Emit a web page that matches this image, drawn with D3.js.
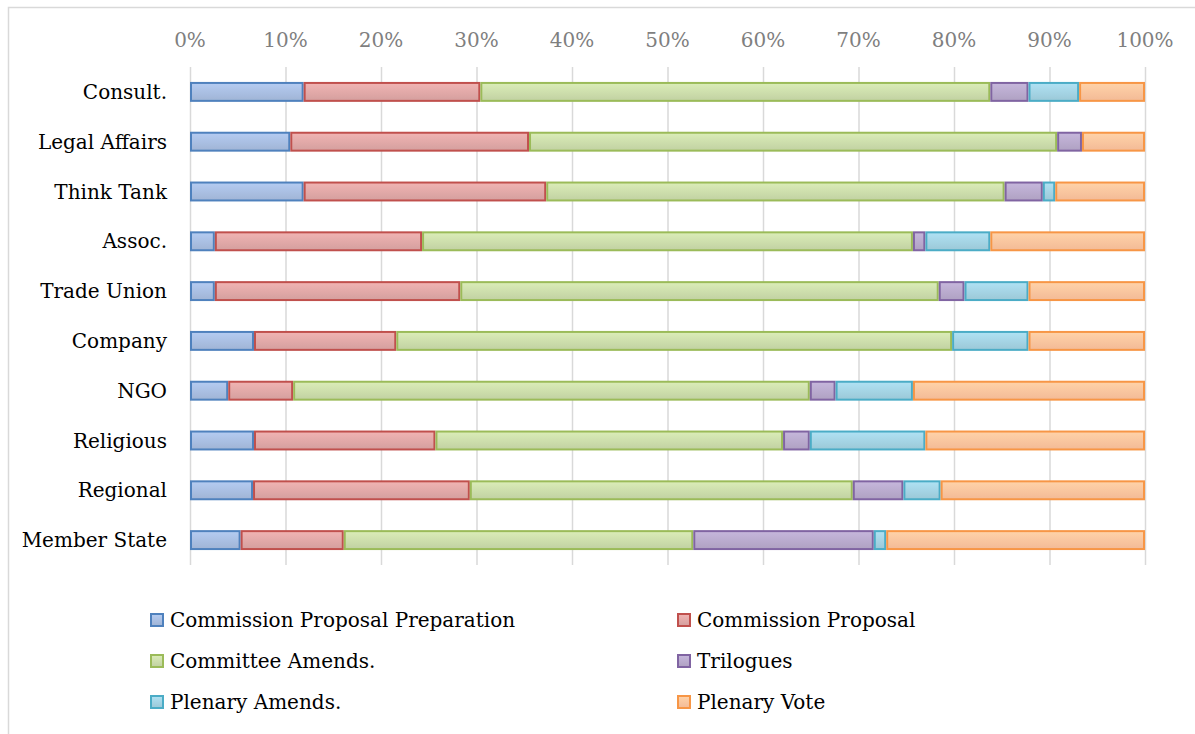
<!DOCTYPE html>
<html lang="en">
<head>
<meta charset="UTF-8">
<title>Stage shares by actor type</title>
<script src="https://cdn.jsdelivr.net/npm/d3@7"></script>
<style>
    body { margin: 0; background: #fff; }
    svg text { font-family: "DejaVu Serif", "Liberation Serif", serif; }
    .tick-label { fill: #7f7f7f; }
    .grid line { stroke: #d9d9d9; stroke-width: 1.5px; }
</style>
</head>
<body>
<svg id="chart" width="1195" height="734"></svg>
<script>
    // actor types, top to bottom
    const categories = ["Consult.", "Legal Affairs", "Think Tank", "Assoc.", "Trade Union",
        "Company", "NGO", "Religious", "Regional", "Member State"];

    const seriesNames = ["Commission Proposal Preparation", "Commission Proposal",
        "Committee Amends.", "Trilogues", "Plenary Amends.", "Plenary Vote"];

    // share (%) of each stage, one array per series, in category order
    const prepValues      = [11.9, 10.5, 11.9, 2.6, 2.6, 6.7, 4.0, 6.7, 6.6, 5.3];
    const proposalValues  = [18.5, 25.0, 25.4, 21.7, 25.7, 14.9, 6.8, 19.0, 22.7, 10.8];
    const committeeValues = [53.4, 55.3, 48.0, 51.4, 50.1, 58.2, 54.1, 36.4, 40.1, 36.6];
    const trilogueValues  = [4.0, 2.6, 4.0, 1.3, 2.7, 0, 2.7, 2.8, 5.3, 18.9];
    const plenaryAmValues = [5.3, 0, 1.3, 6.8, 6.7, 8.0, 8.1, 12.1, 3.9, 1.3];
    const plenaryVoteValues = [6.9, 6.6, 9.4, 16.2, 12.2, 12.2, 24.3, 23.0, 21.4, 27.1];

    const tickValues = [0, 10, 20, 30, 40, 50, 60, 70, 80, 90, 100];

    const fills   = ["#a6bbdd", "#dca5a4", "#c8d9a8", "#b5a7c9", "#a1cfdf", "#fcc19b"];
    const strokes = ["#4f81bd", "#c0504d", "#9bbb59", "#8064a2", "#4bacc6", "#f79646"];

    const allValues = [prepValues, proposalValues, committeeValues,
        trilogueValues, plenaryAmValues, plenaryVoteValues];

    const rows = categories.map((c, i) => {
        const r = { category: c };
        seriesNames.forEach((s, j) => { r[s] = allValues[j][i]; });
        return r;
    });

    const svg = d3.select("#chart");

    // outer chart frame
    svg.append("rect")
        .attr("x", 8.5).attr("y", 7.5)
        .attr("width", 1300).attr("height", 800)
        .attr("fill", "none")
        .attr("stroke", "#d9d9d9")
        .attr("stroke-width", 1.5);

    const x = d3.scaleLinear().domain([0, 100]).range([190, 1145]);
    const y = d3.scaleBand().domain(categories).range([67, 565]).paddingInner(0.6).paddingOuter(0.3);

    // gridlines
    svg.append("g")
        .attr("class", "grid")
        .attr("transform", "translate(0,67)")
        .call(d3.axisBottom(x).tickValues(tickValues).tickSize(498).tickFormat(""))
        .call(g => g.select(".domain").remove());

    // top tick labels
    svg.append("g")
        .selectAll("text")
        .data(tickValues)
        .join("text")
        .attr("class", "tick-label")
        .attr("x", d => x(d))
        .attr("y", 47)
        .attr("text-anchor", "middle")
        .style("font-size", "20px")
        .text(d => d + "%");

    // category labels
    svg.append("g")
        .selectAll("text")
        .data(categories)
        .join("text")
        .attr("x", 167)
        .attr("y", d => y(d) + y.bandwidth() / 2)
        .attr("dy", "0.35em")
        .attr("text-anchor", "end")
        .attr("fill", "#000")
        .style("font-size", "20px")
        .text(d => d);

    // gradients, lighter on top
    const defs = svg.append("defs");
    fills.forEach((f, i) => {
        const grad = defs.append("linearGradient")
            .attr("id", "grad" + i)
            .attr("x1", 0).attr("y1", 0).attr("x2", 0).attr("y2", 1);
        grad.append("stop").attr("offset", "0%").attr("stop-color", d3.color(f).brighter(0.25));
        grad.append("stop").attr("offset", "100%").attr("stop-color", d3.color(f).darker(0.1));
    });

    const stack = d3.stack().keys(seriesNames);
    const stacked = stack(rows);

    svg.append("g")
        .selectAll("g")
        .data(stacked)
        .join("g")
        .attr("fill", (d, i) => "url(#grad" + i + ")")
        .attr("stroke", (d, i) => strokes[i])
        .attr("stroke-width", 2)
        .selectAll("rect")
        .data(d => d.filter(p => p[1] - p[0] > 0))
        .join("rect")
        .attr("x", d => x(d[0]) + 1)
        .attr("y", d => y(d.data.category) + 1)
        .attr("width", d => Math.max(0, x(d[1]) - x(d[0]) - 2))
        .attr("height", y.bandwidth() - 2);

    // legend, two columns
    const legendX = [150, 677];
    const legendY = [620, 661, 702];
    const legend = svg.append("g")
        .selectAll("g")
        .data(seriesNames)
        .join("g")
        .attr("transform", (d, i) => `translate(${legendX[i % 2]},${legendY[Math.floor(i / 2)]})`);

    legend.append("rect")
        .attr("x", 1).attr("y", -6)
        .attr("width", 12).attr("height", 12)
        .attr("fill", (d, i) => "url(#grad" + i + ")")
        .attr("stroke", (d, i) => strokes[i])
        .attr("stroke-width", 2);

    legend.append("text")
        .attr("x", 20)
        .attr("dy", "0.35em")
        .attr("fill", "#000")
        .style("font-size", "20px")
        .text(d => d);
</script>
</body>
</html>
